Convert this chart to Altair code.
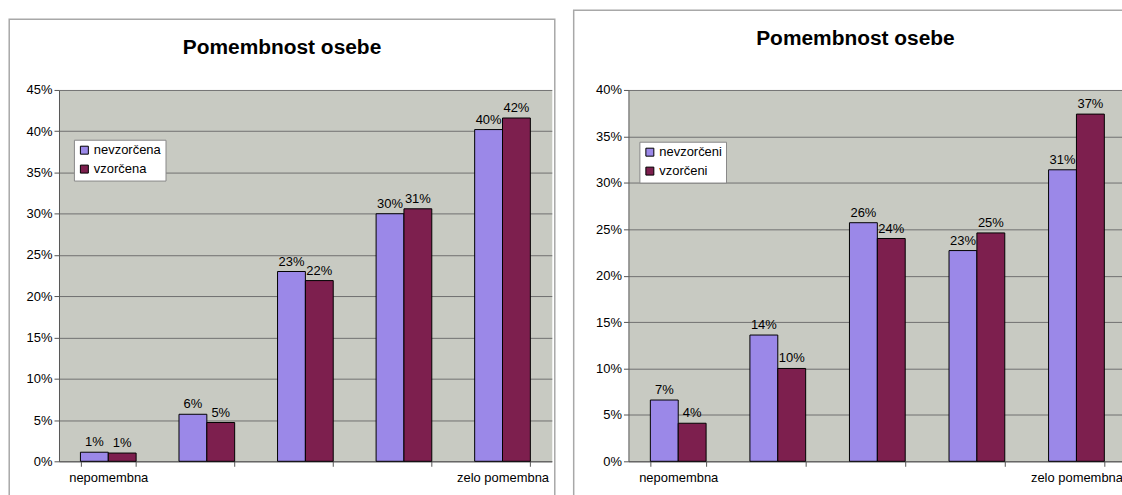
import altair as alt
import pandas as pd

# ---------------- data ----------------
categories = ["1", "2", "3", "4", "5"]
tick_labels = ["nepomembna", "", "", "", "zelo pomembna"]
chart_title = "Pomembnost osebe"

left_series = ["nevzorčena", "vzorčena"]
left_nevzorcena = [0.011, 0.057, 0.230, 0.300, 0.402]
left_vzorcena = [0.010, 0.047, 0.219, 0.306, 0.416]
left_ticks = [0, 0.05, 0.10, 0.15, 0.20, 0.25, 0.30, 0.35, 0.40, 0.45]

right_series = ["nevzorčeni", "vzorčeni"]
right_nevzorceni = [0.066, 0.136, 0.257, 0.227, 0.314]
right_vzorceni = [0.041, 0.100, 0.240, 0.246, 0.374]
right_ticks = [0, 0.05, 0.10, 0.15, 0.20, 0.25, 0.30, 0.35, 0.40]

series_colors = ["#9b88e8", "#7d1f4e"]
FONT = "Liberation Sans"

# label expression built from the tick label list
label_expr = "''"
for c, lab in reversed(list(zip(categories, tick_labels))):
    label_expr = f"datum.value == '{c}' ? '{lab}' : ({label_expr})"


def panel(series_names, s1, s2, ticks, width, height, frame, title_xy, legend_xy, pad_inner):
    rows = []
    for name, vals in zip(series_names, [s1, s2]):
        for c, v in zip(categories, vals):
            rows.append({"kategorija": c, "serija": name, "vrednost": v})
    df = pd.DataFrame(rows)
    title_df = pd.DataFrame({"naslov": [chart_title]})

    x = alt.X(
        "kategorija:N",
        sort=categories,
        scale=alt.Scale(paddingInner=pad_inner, paddingOuter=pad_inner / 2),
        axis=alt.Axis(
            title=None, labelAngle=0, labelExpr=label_expr, tickBand="extent",
            tickSize=5, tickColor="#555555", domainColor="#555555",
            labelPadding=5, labelFontSize=13, labelFont=FONT, labelColor="black",
            grid=False,
        ),
    )
    y = alt.Y(
        "vrednost:Q",
        scale=alt.Scale(domain=[0, ticks[-1]], nice=False),
        axis=alt.Axis(
            values=ticks, format=".0%", title=None, grid=True,
            gridColor="#707070", gridWidth=1, tickSize=5,
            tickColor="#555555", domainColor="#555555",
            labelFontSize=13, labelFont=FONT, labelColor="black", labelPadding=2,
        ),
    )
    xoff = alt.XOffset("serija:N", sort=series_names,
                       scale=alt.Scale(domain=series_names, paddingInner=0, paddingOuter=0))
    color = alt.Color(
        "serija:N",
        sort=series_names,
        scale=alt.Scale(domain=series_names, range=series_colors),
        legend=alt.Legend(
            title=None, orient="none", legendX=legend_xy[0], legendY=legend_xy[1],
            fillColor="white", strokeColor="#888888", padding=4,
            symbolType="square", symbolSize=64, symbolStrokeColor="black",
            symbolStrokeWidth=1, symbolOpacity=1, labelFontSize=13, labelFont=FONT,
            labelColor="black", rowPadding=5, labelOffset=3,
        ),
    )

    frame_mark = alt.Chart(title_df).mark_rect(
        fillOpacity=0, stroke="#a8a8a8", strokeWidth=1.5
    ).encode(
        x=alt.value(frame[0]), x2=alt.value(frame[1]),
        y=alt.value(frame[2]), y2=alt.value(frame[3]),
    )
    bars = alt.Chart(df).mark_bar(stroke="black", strokeWidth=1).encode(
        x=x, xOffset=xoff, y=y, color=color
    )
    labels = alt.Chart(df).mark_text(
        baseline="bottom", dy=-3, fontSize=13, font=FONT, color="black"
    ).encode(
        x=x, xOffset=xoff, y=y, text=alt.Text("vrednost:Q", format=".0%")
    )
    title_mark = alt.Chart(title_df).mark_text(
        fontSize=21, fontWeight="bold", font=FONT, color="black",
        align="center", baseline="alphabetic",
    ).encode(
        x=alt.value(title_xy[0]), y=alt.value(title_xy[1]), text="naslov:N"
    )
    return alt.layer(frame_mark, bars, labels, title_mark).properties(
        width=width, height=height
    ).resolve_scale(xOffset="shared")


left = panel(left_series, left_nevzorcena, left_vzorcena, left_ticks,
             495, 373, (-50, 498, -71, 413), (224, -36), (15, 50), 0.435)
right = panel(right_series, right_nevzorceni, right_vzorceni, right_ticks,
              500, 373, (-55, 508, -80, 413), (228, -45), (11, 52), 0.44)

chart = alt.hconcat(left, right, spacing=15).resolve_scale(
    color="independent", x="independent", y="independent", xOffset="independent"
).resolve_legend(color="independent").configure_view(
    fill="#c8cac2", stroke="transparent"
).properties(
    padding={"left": 7.25, "top": 7.25, "right": -14.25, "bottom": -6.75},
    background="white",
)

chart.save("out.html", embed_options={"renderer": "svg", "actions": False})
